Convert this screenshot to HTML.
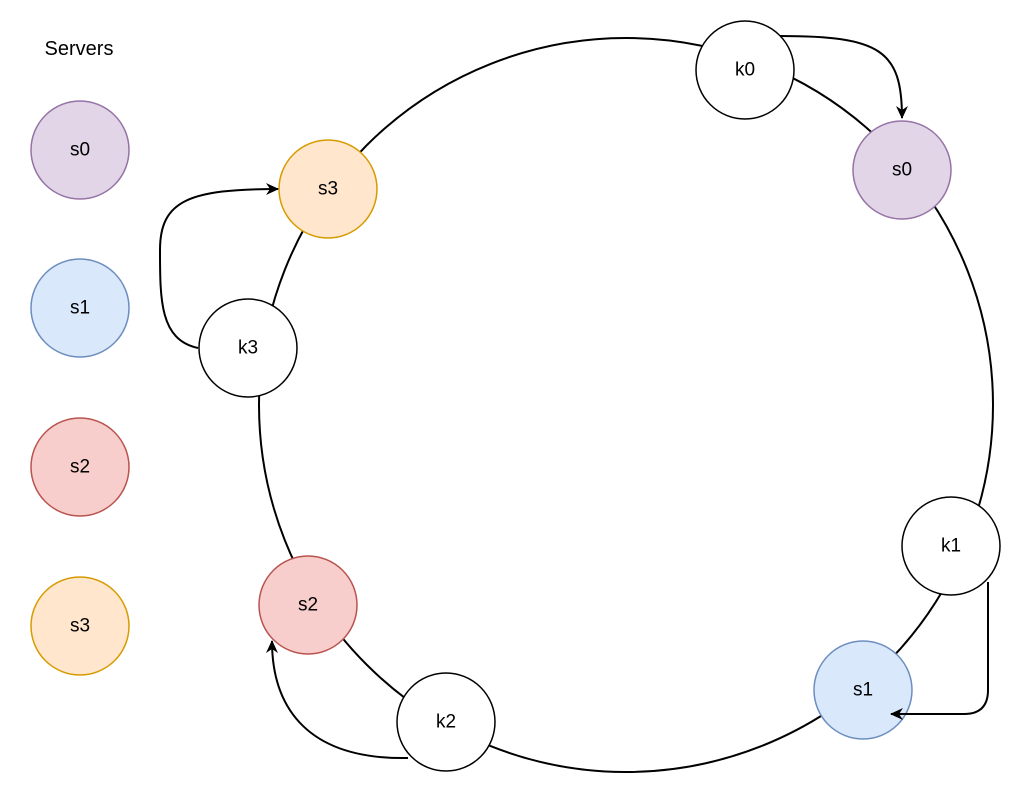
<!DOCTYPE html>
<html><head><meta charset="utf-8"><style>
html,body{margin:0;padding:0;background:#fff;}
svg{display:block;}
text{font-family:"Liberation Sans",Helvetica,Arial,sans-serif;font-size:19px;fill:#000;}
</style></head><body>
<svg width="1023" height="797" viewBox="0 0 1023 797" xmlns="http://www.w3.org/2000/svg">
<defs>
<marker id="ah" markerWidth="14" markerHeight="14" refX="12" refY="7" orient="auto" markerUnits="userSpaceOnUse">
<path d="M0,1 L13,7 L0,13 L4,7 Z" fill="#000"/>
</marker>
</defs>
<circle cx="626" cy="405" r="367" fill="none" stroke="#000" stroke-width="2"/>
<g stroke-width="1.5">
<circle cx="745" cy="70" r="49" fill="#fff" stroke="#000"/>
<circle cx="902" cy="170" r="49" fill="#e1d5e7" stroke="#9673a6"/>
<circle cx="951" cy="546" r="49" fill="#fff" stroke="#000"/>
<circle cx="863" cy="690" r="49" fill="#dae8fc" stroke="#6c8ebf"/>
<circle cx="446" cy="722" r="49" fill="#fff" stroke="#000"/>
<circle cx="308" cy="605" r="49" fill="#f8cecc" stroke="#b85450"/>
<circle cx="248" cy="348" r="49" fill="#fff" stroke="#000"/>
<circle cx="328" cy="189" r="49" fill="#ffe6cc" stroke="#d79b00"/>
<circle cx="80" cy="150" r="49" fill="#e1d5e7" stroke="#9673a6"/>
<circle cx="80" cy="308" r="49" fill="#dae8fc" stroke="#6c8ebf"/>
<circle cx="80" cy="467" r="49" fill="#f8cecc" stroke="#b85450"/>
<circle cx="80" cy="626" r="49" fill="#ffe6cc" stroke="#d79b00"/>
</g>
<g stroke-width="2">
<path d="M780,36 C880,36 902,50 902,118" fill="none" stroke="#000" marker-end="url(#ah)"/>
<path d="M988,582 L988,690 Q988,714 964,714 L891,714" fill="none" stroke="#000" marker-end="url(#ah)"/>
<path d="M408,758 C300,760 272,700 272,641" fill="none" stroke="#000" marker-end="url(#ah)"/>
<path d="M198,348 C160,340 160,300 160,250 C160,200 190,189 278,189" fill="none" stroke="#000" marker-end="url(#ah)"/>
</g>
<g text-anchor="middle" dominant-baseline="central">
<text x="745" y="70">k0</text>
<text x="902" y="170">s0</text>
<text x="951" y="546">k1</text>
<text x="863" y="690">s1</text>
<text x="446" y="722">k2</text>
<text x="308" y="605">s2</text>
<text x="248" y="348">k3</text>
<text x="328" y="189">s3</text>
<text x="80" y="150">s0</text>
<text x="80" y="308">s1</text>
<text x="80" y="467">s2</text>
<text x="80" y="626">s3</text>
<text x="79" y="49" style="font-size:20px">Servers</text>
</g>
</svg>
</body></html>
